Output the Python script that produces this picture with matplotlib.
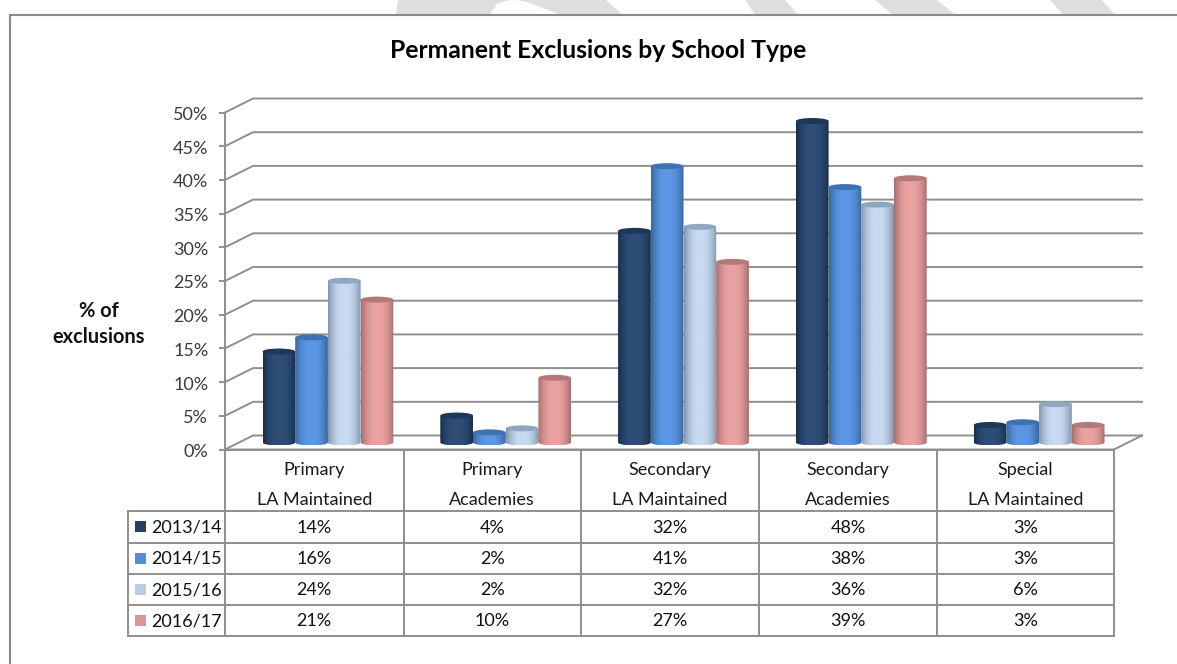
import numpy as np
import matplotlib
matplotlib.use("Agg")
import matplotlib.pyplot as plt
from matplotlib.patches import Ellipse, Rectangle, PathPatch, Polygon
from matplotlib.path import Path
from matplotlib.colors import LinearSegmentedColormap
from matplotlib.transforms import ScaledTranslation

plt.rcParams['font.family'] = ['Lato', 'DejaVu Sans']

title = "Permanent Exclusions by School Type"
ylabel_lines = ["% of", "exclusions"]
cat_line1 = ["Primary", "Primary", "Secondary", "Secondary", "Special"]
cat_line2 = ["LA Maintained", "Academies", "LA Maintained", "Academies", "LA Maintained"]
series_names = ["2013/14", "2014/15", "2015/16", "2016/17"]
v1314 = [13.5, 4.0, 31.4, 47.7, 2.6]
v1415 = [15.6, 1.5, 41.0, 37.9, 3.0]
v1516 = [24.0, 2.1, 32.0, 35.3, 5.7]
v1617 = [21.2, 9.6, 26.8, 39.2, 2.6]
l1314 = ["14%", "4%", "32%", "48%", "3%"]
l1415 = ["16%", "2%", "41%", "38%", "3%"]
l1516 = ["24%", "2%", "32%", "36%", "6%"]
l1617 = ["21%", "10%", "27%", "39%", "3%"]
yticks = [0, 5, 10, 15, 20, 25, 30, 35, 40, 45, 50]

values = [v1314, v1415, v1516, v1617]
labels = [l1314, l1415, l1516, l1617]
centers = ['#2e4f78', '#5c98e6', '#c8dbf3', '#eba2a2']
edges = ['#182c4a', '#376699', '#8192a8', '#a56c6c']
tops = ['#1d3759', '#3d72b4', '#8fa5c0', '#b57878']
keys = ['#254061', '#558ed5', '#b9cde5', '#d99694']

W, H = 1177, 664
GRID = '#8e8e8e'
LW = 1.4
fig = plt.figure(figsize=(W / 100, H / 100), dpi=100, facecolor='white')

# page-level overlay in pixel coordinates
pg = fig.add_axes([0, 0, 1, 1], zorder=0)
pg.set_xlim(0, W); pg.set_ylim(H, 0); pg.axis('off')
for poly in ([(398, 0), (396, 14.5), (490, 14.5), (497, 4), (507, 0.5), (518, 0), (530, 3), (560, 14.5), (622, 14.5), (606, 0)],
             [(745, 0), (755, 14.5), (798, 14.5), (785, 0)],
             [(875, 0), (892, 14.5), (955, 14.5), (937, 0)],
             [(1050, 0), (1063, 14.5), (1115, 14.5), (1102, 0)]):
    pg.add_patch(Polygon(poly, closed=True, fc='#dedede', ec='none'))
pg.plot([10, 10, W], [H, 15, 15], color='#8a8a8a', lw=1.5, solid_joinstyle='miter')

# chart axes: x in category units, y in percent
x0, x1, y0, y50 = 225, 1114, 449.5, 112.5
ax = fig.add_axes([x0 / W, 1 - y0 / H, (x1 - x0) / W, (y0 - y50) / H], zorder=1)
ax.patch.set_alpha(0)
ax.set_xlim(0, 5); ax.set_ylim(0, 50)
for s in ('top', 'right', 'bottom'):
    ax.spines[s].set_visible(False)
ax.spines['left'].set_color(GRID); ax.spines['left'].set_linewidth(LW)
ax.set_xticks([])
ax.set_yticks(yticks, [f"{t}%" for t in yticks])
ax.tick_params(axis='y', length=4, width=LW, color=GRID, pad=8, labelsize=13, labelcolor='#3a3a3a')
shift = ScaledTranslation(0, -1 / 100, fig.dpi_scale_trans)
for lab in ax.get_yticklabels():
    lab.set_transform(lab.get_transform() + shift)

px_x = 5 / (x1 - x0); px_y = 50 / (y0 - y50)
dx, dy = 28 * px_x, 14 * px_y
for t in yticks:
    ax.plot([0, dx, 5 + dx], [t, t + dy, t + dy], color=GRID, lw=LW, clip_on=False, zorder=1)
ax.plot([0, 5, 5 + dx], [0, 0, dy], color=GRID, lw=LW, clip_on=False, zorder=1)

# cylinders
bw = 32.7 * px_x
ry = 3.0 * px_y
base = dy / 2
u = np.linspace(-1, 1, 120)
grad = (1 - np.abs(u) ** 2.4)[None, :]
for i in range(5):
    for j in range(4):
        v = values[j][i]
        cx = i + 0.5 + dx / 2 + (j - 1.5) * bw
        cmap = LinearSegmentedColormap.from_list('c', [edges[j], centers[j]])
        ybot, ytop = base, base + v
        l, r = cx - bw / 2, cx + bw / 2
        th = np.linspace(np.pi, 2 * np.pi, 40)
        verts = [(cx + bw / 2 * np.cos(a), ybot + ry * np.sin(a)) for a in th]
        verts += [(r, ytop), (l, ytop), verts[0]]
        clip = PathPatch(Path(verts), transform=ax.transData, fc='none', ec='none')
        ax.add_patch(clip)
        z = 3 + i + 0.1 * j
        im = ax.imshow(grad, extent=[l, r, ybot - ry, ytop], aspect='auto', cmap=cmap,
                       vmin=0, vmax=1, zorder=z, interpolation='bilinear')
        im.set_clip_path(clip)
        ax.add_patch(Ellipse((cx, ytop), bw, 2 * ry, fc=tops[j], ec='none', zorder=z + 0.01, clip_on=False))
ax.set_xlim(0, 5); ax.set_ylim(0, 50); ax.set_aspect('auto')

# data table on the page axes, above the chart
tb = fig.add_axes([0, 0, 1, 1], zorder=2)
tb.set_xlim(0, W); tb.set_ylim(H, 0); tb.axis('off')
cols = [225, 403.5, 581, 759, 937, 1114]
rows = [511, 542.5, 573.5, 604.5, 636]
for cxp in cols:
    tb.plot([cxp, cxp], [449.5, rows[-1]], color=GRID, lw=LW)
tb.plot([225, 1114], [449.5, 449.5], color=GRID, lw=LW)
tb.plot([128, 128], [rows[0], rows[-1]], color=GRID, lw=LW)
for ry_ in rows:
    tb.plot([128, 1114], [ry_, ry_], color=GRID, lw=LW)
fs = 13
for i in range(5):
    xc = (cols[i] + cols[i + 1]) / 2
    tb.text(xc, 470, cat_line1[i], ha='center', va='center', fontsize=fs, color='#1a1a1a')
    tb.text(xc, 500, cat_line2[i], ha='center', va='center', fontsize=fs, color='#1a1a1a')
for j in range(4):
    yc = (rows[j] + rows[j + 1]) / 2
    tb.add_patch(Rectangle((135, yc - 5.5), 11, 11, fc=keys[j], ec='none'))
    tb.text(151.5, yc + 1, series_names[j], ha='left', va='center', fontsize=fs, color='#111111')
    for i in range(5):
        tb.text((cols[i] + cols[i + 1]) / 2, yc + 1, labels[j][i], ha='center', va='center', fontsize=fs, color='#111111')

tb.text(598.5, 50, title, ha='center', va='center', fontsize=17.8, fontweight='bold', color='#000000')
tb.text(99, 311, ylabel_lines[0], ha='center', va='center', fontsize=14.4, fontweight='bold', color='#111111')
tb.text(99, 337, ylabel_lines[1], ha='center', va='center', fontsize=14.4, fontweight='bold', color='#111111')

fig.savefig('out.png', dpi=100)
